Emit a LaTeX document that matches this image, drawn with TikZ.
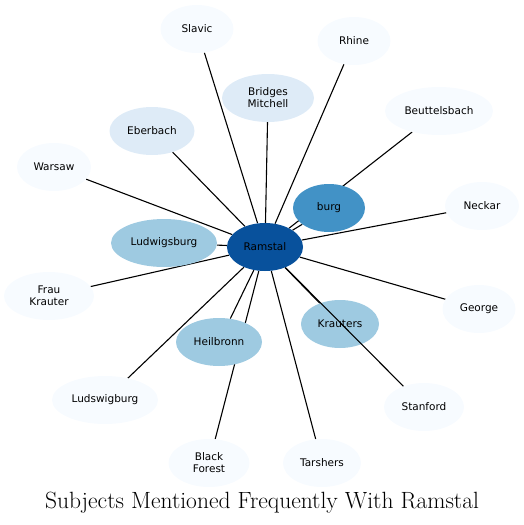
\documentclass[tikz,border=0pt]{standalone}
\usepackage{fontspec}
\newfontfamily\nodefont{DejaVu Sans}
\usetikzlibrary{shapes.geometric,backgrounds}

\definecolor{bluesdark}{HTML}{08519C}
\definecolor{bluesmid}{HTML}{4292C6}
\definecolor{blueslight}{HTML}{9ECAE1}
\definecolor{bluespale}{HTML}{DEEBF7}
\definecolor{bluesfaint}{HTML}{F7FBFF}

\begin{document}
\begin{tikzpicture}[x=1pt,y=-1pt]
	\tikzstyle{subject}=[ellipse,minimum height=48pt,inner sep=0pt,align=center,
	                     text=black,font=\nodefont\fontsize{10.5}{12}\selectfont]
	\tikzstyle{link}=[draw=black,line width=1.1pt]
	\useasboundingbox (0,0) rectangle (524,525);

	% hub
	\node[subject,fill=bluesdark,minimum width=76pt]	(Ramstal)	at (265,247)	{Ramstal};
	% frequent subjects
	\node[subject,fill=bluesmid,minimum width=72pt]		(burg)		at (329,208)	{burg};
	\node[subject,fill=blueslight,minimum width=106pt]	(Ludwigsburg)	at (164,243)	{Ludwigsburg};
	\node[subject,fill=blueslight,minimum width=86pt]	(Heilbronn)	at (219,342)	{Heilbronn};
	\node[subject,fill=blueslight,minimum width=78pt]	(Krauters)	at (340,324)	{Krauters};
	\node[subject,fill=bluespale,minimum width=92pt]	(BridgesMitchell)	at (268,98)	{Bridges\\Mitchell};
	\node[subject,fill=bluespale,minimum width=85pt]	(Eberbach)	at (152,131)	{Eberbach};
	% rare subjects
	\node[subject,fill=bluesfaint,minimum width=73pt]	(Slavic)	at (197,29)	{Slavic};
	\node[subject,fill=bluesfaint,minimum width=73pt]	(Rhine)		at (354,41)	{Rhine};
	\node[subject,fill=bluesfaint,minimum width=108pt]	(Beuttelsbach)	at (439,111)	{Beuttelsbach};
	\node[subject,fill=bluesfaint,minimum width=74pt]	(Warsaw)	at (54,167)	{Warsaw};
	\node[subject,fill=bluesfaint,minimum width=74pt]	(Neckar)	at (482,206)	{Neckar};
	\node[subject,fill=bluesfaint,minimum width=90pt]	(FrauKrauter)	at (49,296)	{Frau\\Krauter};
	\node[subject,fill=bluesfaint,minimum width=73pt]	(George)	at (479,309)	{George};
	\node[subject,fill=bluesfaint,minimum width=106pt]	(Ludswigburg)	at (105,400)	{Ludswigburg};
	\node[subject,fill=bluesfaint,minimum width=80pt]	(Stanford)	at (424,407)	{Stanford};
	\node[subject,fill=bluesfaint,minimum width=81pt]	(BlackForest)	at (209,463)	{Black\\Forest};
	\node[subject,fill=bluesfaint,minimum width=78pt]	(Tarshers)	at (322,463)	{Tarshers};

	\begin{scope}[on background layer]
		\foreach \leaf in {burg,Ludwigsburg,Heilbronn,Krauters,BridgesMitchell,Eberbach,
		                   Slavic,Rhine,Beuttelsbach,Warsaw,Neckar,FrauKrauter,George,
		                   Ludswigburg,BlackForest,Tarshers}
			\draw[link] (Ramstal) -- (\leaf);
	\end{scope}
	\draw[link] (Ramstal) -- (Stanford);

	\node[font=\fontsize{23.5}{27}\selectfont] (title) at (262,503) {Subjects Mentioned Frequently With Ramstal};
\end{tikzpicture}
\end{document}
